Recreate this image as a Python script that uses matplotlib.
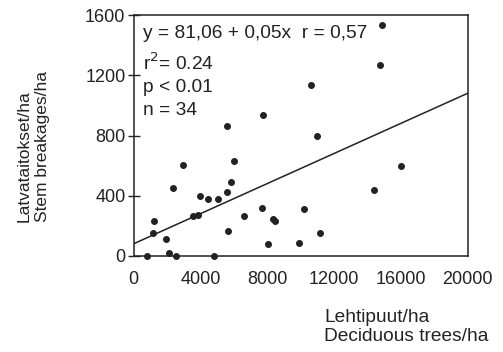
import matplotlib
matplotlib.use("Agg")
import matplotlib.pyplot as plt
import numpy as np

# lehtipuut/ha (deciduous trees/ha) ja latvataitokset/ha (stem breakages/ha)
deciduous = [795, 1155, 1194, 1910, 2110, 2550, 2350, 2925, 3540, 3860,
             3940, 4420, 4776, 5015, 5570, 5612, 5600, 5850, 5990, 6587,
             7660, 7720, 8060, 8318, 8437, 9870, 10210, 10587, 10967, 11164,
             14370, 14746, 14886, 16000]
breakages = [0, 150, 230, 115, 18, 0, 449, 604, 266, 274,
             398, 380, 0, 380, 427, 168, 865, 489, 633, 263,
             319, 936, 80, 244, 230, 84, 312, 1133, 799, 150,
             440, 1268, 1534, 600]
intercept = 81.06
slope = 0.05
x_ticks = [0, 4000, 8000, 12000, 16000, 20000]
y_ticks = [0, 400, 800, 1200, 1600]

plt.rcParams['font.family'] = ['Liberation Sans', 'DejaVu Sans']
ink = '#222222'

fig = plt.figure(figsize=(5.03, 3.52), dpi=100)
ax = fig.add_axes([0.266, 0.273, 0.664, 0.684])

ax.scatter(deciduous, breakages, s=16, color=ink, zorder=3, clip_on=False)
xl = np.array([0, 20000])
ax.plot(xl, intercept + slope * xl, color=ink, lw=1.1)

ax.set_xlim(0, 20000)
ax.set_ylim(0, 1600)
ax.set_xticks(x_ticks)
ax.set_yticks(y_ticks)
ax.tick_params(axis='x', length=0, pad=11, labelsize=13, colors=ink)
ax.tick_params(axis='y', direction='inout', length=8, width=1, pad=2,
               labelsize=13, colors=ink)
for sp in ax.spines.values():
    sp.set_color(ink)
    sp.set_linewidth(1.1)

fs = 13.8
ax.text(0.027, 0.925, 'y = 81,06 + 0,05x  r = 0,57', transform=ax.transAxes,
        fontsize=fs, color=ink, va='center')
ax.text(0.027, 0.80, 'r$^2$= 0.24', transform=ax.transAxes,
        fontsize=fs, color=ink, va='center')
ax.text(0.027, 0.70, 'p < 0.01', transform=ax.transAxes,
        fontsize=fs, color=ink, va='center')
ax.text(0.027, 0.605, 'n = 34', transform=ax.transAxes,
        fontsize=fs, color=ink, va='center')

fig.text(324 / 503, 1 - 327 / 352, 'Lehtipuut/ha\nDeciduous trees/ha',
         fontsize=fs, color=ink, ha='left', va='center', linespacing=1.2)
fig.text(33 / 503, 1 - 222 / 352, 'Latvataitokset/ha\nStem breakages/ha',
         fontsize=12.5, color=ink, rotation=90, ha='center', va='bottom',
         multialignment='left', linespacing=1.3)

fig.savefig('out.png', dpi=100)
